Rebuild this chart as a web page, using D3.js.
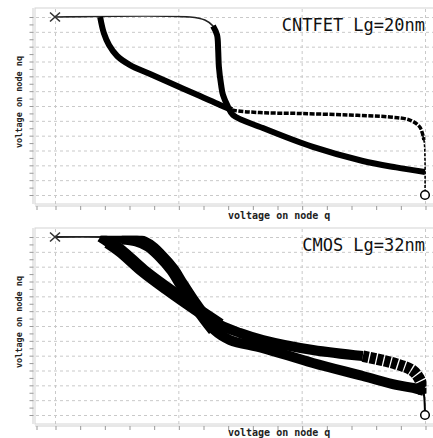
<!DOCTYPE html>
<html><head><meta charset="utf-8">
<script src="https://cdn.jsdelivr.net/npm/d3@7"></script>
<style>html,body{margin:0;padding:0;background:#fff;}svg{display:block;}</style>
</head><body>
<script>
// ---------- data (normalized voltages, 0..Vdd = 0..1) ----------
const panelTitles = ["CNTFET Lg=20nm", "CMOS Lg=32nm"];
const xLabel = "voltage on node q";
const yLabel = "voltage on node nq";
const xGridValues = [0, 1/3, 2/3, 1];
const yGridCount = 12;

// CNTFET: inverter 1 (q -> nq)
const cntCurve1 = [[0,1],[0.365,1],[0.405,0.983],[0.427,0.949],[0.438,0.899],[0.441,0.815],[0.443,0.719],[0.449,0.618],[0.454,0.562],[0.468,0.494],[0.481,0.449],[0.562,0.376],[0.697,0.270],[0.832,0.191],[0.922,0.155],[1,0.129]];
// CNTFET: inverter 2 (mirrored)
const cntCurve2 = [[0,1],[0.122,1],[0.132,0.910],[0.146,0.843],[0.168,0.781],[0.203,0.730],[0.257,0.680],[0.324,0.618],[0.392,0.556],[0.446,0.506],[0.478,0.478],[0.554,0.463],[0.662,0.458],[0.797,0.449],[0.905,0.438],[0.959,0.421],[0.986,0.382],[0.997,0.309],[1,0.197],[1,0]];
// CMOS: inverter 1
const cmosCurve1 = [[0,1],[0.122,1],[0.180,0.994],[0.220,0.983],[0.254,0.952],[0.284,0.896],[0.318,0.815],[0.340,0.742],[0.370,0.646],[0.405,0.545],[0.430,0.478],[0.473,0.421],[0.562,0.376],[0.697,0.292],[0.832,0.219],[0.922,0.169],[0.968,0.152],[0.997,0.135]];
// CMOS: inverter 2
const cmosCurve2 = [[0,1],[0.122,1],[0.143,0.972],[0.178,0.921],[0.239,0.809],[0.308,0.702],[0.381,0.596],[0.446,0.506],[0.500,0.461],[0.562,0.421],[0.697,0.365],[0.832,0.331],[0.922,0.287],[0.968,0.247],[0.989,0.185],[0.997,0.118],[1,0]];

// ---------- drawing ----------
const W = 433, H = 438;
const svg = d3.select("body").append("svg").attr("width", W).attr("height", H);
const mono = "'DejaVu Sans Mono','Liberation Mono',monospace";

function panel(idx, top, labelY) {
  const frameTop = top, gridTop = top + 9, gridBot = top + 187, frameBot = top + 196;
  const x = d3.scaleLinear().domain([0, 1]).range([55, 425]);
  const y = d3.scaleLinear().domain([0, 1]).range([gridBot, gridTop]);
  const g = svg.append("g");

  g.append("rect").attr("x", 35).attr("y", frameTop).attr("width", 410).attr("height", frameBot - frameTop)
    .attr("fill", "none").attr("stroke", "#d4d4d4").attr("stroke-width", 1);
  g.append("line").attr("x1", 35).attr("x2", 433).attr("y1", frameBot + 2).attr("y2", frameBot + 2)
    .attr("stroke", "#cfcfcf");
  g.append("line").attr("x1", 33).attr("x2", 33).attr("y1", frameTop).attr("y2", frameBot)
    .attr("stroke", "#cfcfcf");

  const yTicks = d3.range(yGridCount + 1).map(i => i / yGridCount);
  g.selectAll(".hg").data(yTicks).join("line")
    .attr("x1", 36).attr("x2", 433).attr("y1", d => y(d) + 0.5).attr("y2", d => y(d) + 0.5)
    .attr("stroke", "#c9c9c9").attr("stroke-dasharray", "3,3");
  g.selectAll(".vg").data(xGridValues).join("line")
    .attr("x1", d => x(d) + 0.5).attr("x2", d => x(d) + 0.5).attr("y1", frameTop + 1).attr("y2", frameBot)
    .attr("stroke", "#c9c9c9").attr("stroke-dasharray", "3,3");

  const yAxis = d3.axisLeft(y).tickValues(d3.range(2 * yGridCount + 1).map(i => i / (2 * yGridCount)))
    .tickSize(4).tickFormat("");
  const ya = g.append("g").attr("transform", "translate(33.5,0)").call(yAxis);
  ya.select(".domain").remove();
  ya.selectAll("line").attr("stroke", "#999");
  const xAxis = d3.axisBottom(x).tickValues(d3.range(0, 16).map(i => i / 15)).tickSize(4).tickFormat("");
  const xa = g.append("g").attr("transform", `translate(0.5,${frameBot + 2})`).call(xAxis);
  xa.select(".domain").remove();
  xa.selectAll("line").attr("stroke", "#999");
  g.append("line").attr("x1", 37).attr("x2", 37).attr("y1", frameBot + 2).attr("y2", frameBot + 6).attr("stroke", "#999");

  g.append("text").attr("x", 425).attr("y", gridTop + 14).attr("text-anchor", "end")
    .attr("font-family", mono).attr("font-size", 17).attr("fill", "#111").text(panelTitles[idx]);
  g.append("text").attr("x", 228).attr("y", labelY)
    .attr("font-family", mono).attr("font-size", 10).attr("font-weight", "bold").attr("fill", "#222").text(xLabel);
  g.append("text").attr("transform", `translate(22,${(gridTop + gridBot) / 2 - 4}) rotate(-90)`)
    .attr("text-anchor", "middle").attr("font-family", mono).attr("font-size", 8.5).attr("font-weight", "bold")
    .attr("fill", "#222").text(yLabel);

  const cid = "clip" + idx;
  svg.append("clipPath").attr("id", cid).append("rect")
    .attr("x", 0).attr("y", y(1) - 1.2).attr("width", x(1) + 1.5).attr("height", y(0) - y(1) + 6);
  const cg = g.append("g").attr("clip-path", `url(#${cid})`);
  const line = d3.line().x(d => x(d[0])).y(d => y(d[1])).curve(d3.curveCatmullRom.alpha(0.5));
  return {g, cg, x, y, line};
}

function markers(p) {
  const {g, x, y} = p;
  const mx = x(0), my = y(1);
  g.append("path").attr("d", `M${mx-5},${my-4.5}L${mx+5},${my+4.5}M${mx-5},${my+4.5}L${mx+5},${my-4.5}`)
    .attr("stroke", "#333").attr("stroke-width", 1.6);
  g.append("circle").attr("cx", x(1)).attr("cy", y(0)).attr("r", 4.3).attr("fill", "#fff")
    .attr("stroke", "#000").attr("stroke-width", 1.5);
}

function band(cg, line, pts, w, dash) {
  const p = cg.append("path").attr("d", line(pts)).attr("fill", "none").attr("stroke", "#000")
    .attr("stroke-width", w).attr("stroke-linejoin", "round");
  if (dash) p.attr("stroke-dasharray", dash);
  return p;
}

// ---- top panel: CNTFET ----
{
  const p = panel(0, 8, 219);
  const {cg, line} = p;
  band(cg, line, cntCurve1.slice(0, 5), 1.6).attr("stroke", "#222");
  band(cg, line, cntCurve1.slice(3), 6);
  band(cg, line, cntCurve2.slice(1, 11), 6);
  band(cg, line, cntCurve2.slice(9, 18), 3.5, "5,1.5");
  band(cg, line, cntCurve2.slice(16), 1.6, "3,1.5");
  markers(p);
}

// ---- bottom panel: CMOS ----
{
  const p = panel(1, 228, 436);
  const {cg, line} = p;
  band(cg, line, cmosCurve1.slice(0, 3), 1.8).attr("stroke", "#222");
  band(cg, line, cmosCurve1.slice(1), 10);
  band(cg, line, cmosCurve1.slice(2, 11), 13);
  band(cg, line, cmosCurve2.slice(1, 12), 10);
  band(cg, line, cmosCurve2.slice(2, 8), 13);
  band(cg, line, cmosCurve2.slice(11, 16), 11.5, "6,1.3");
  band(cg, line, cmosCurve2.slice(14), 2);
  markers(p);
}
</script>
</body></html>
